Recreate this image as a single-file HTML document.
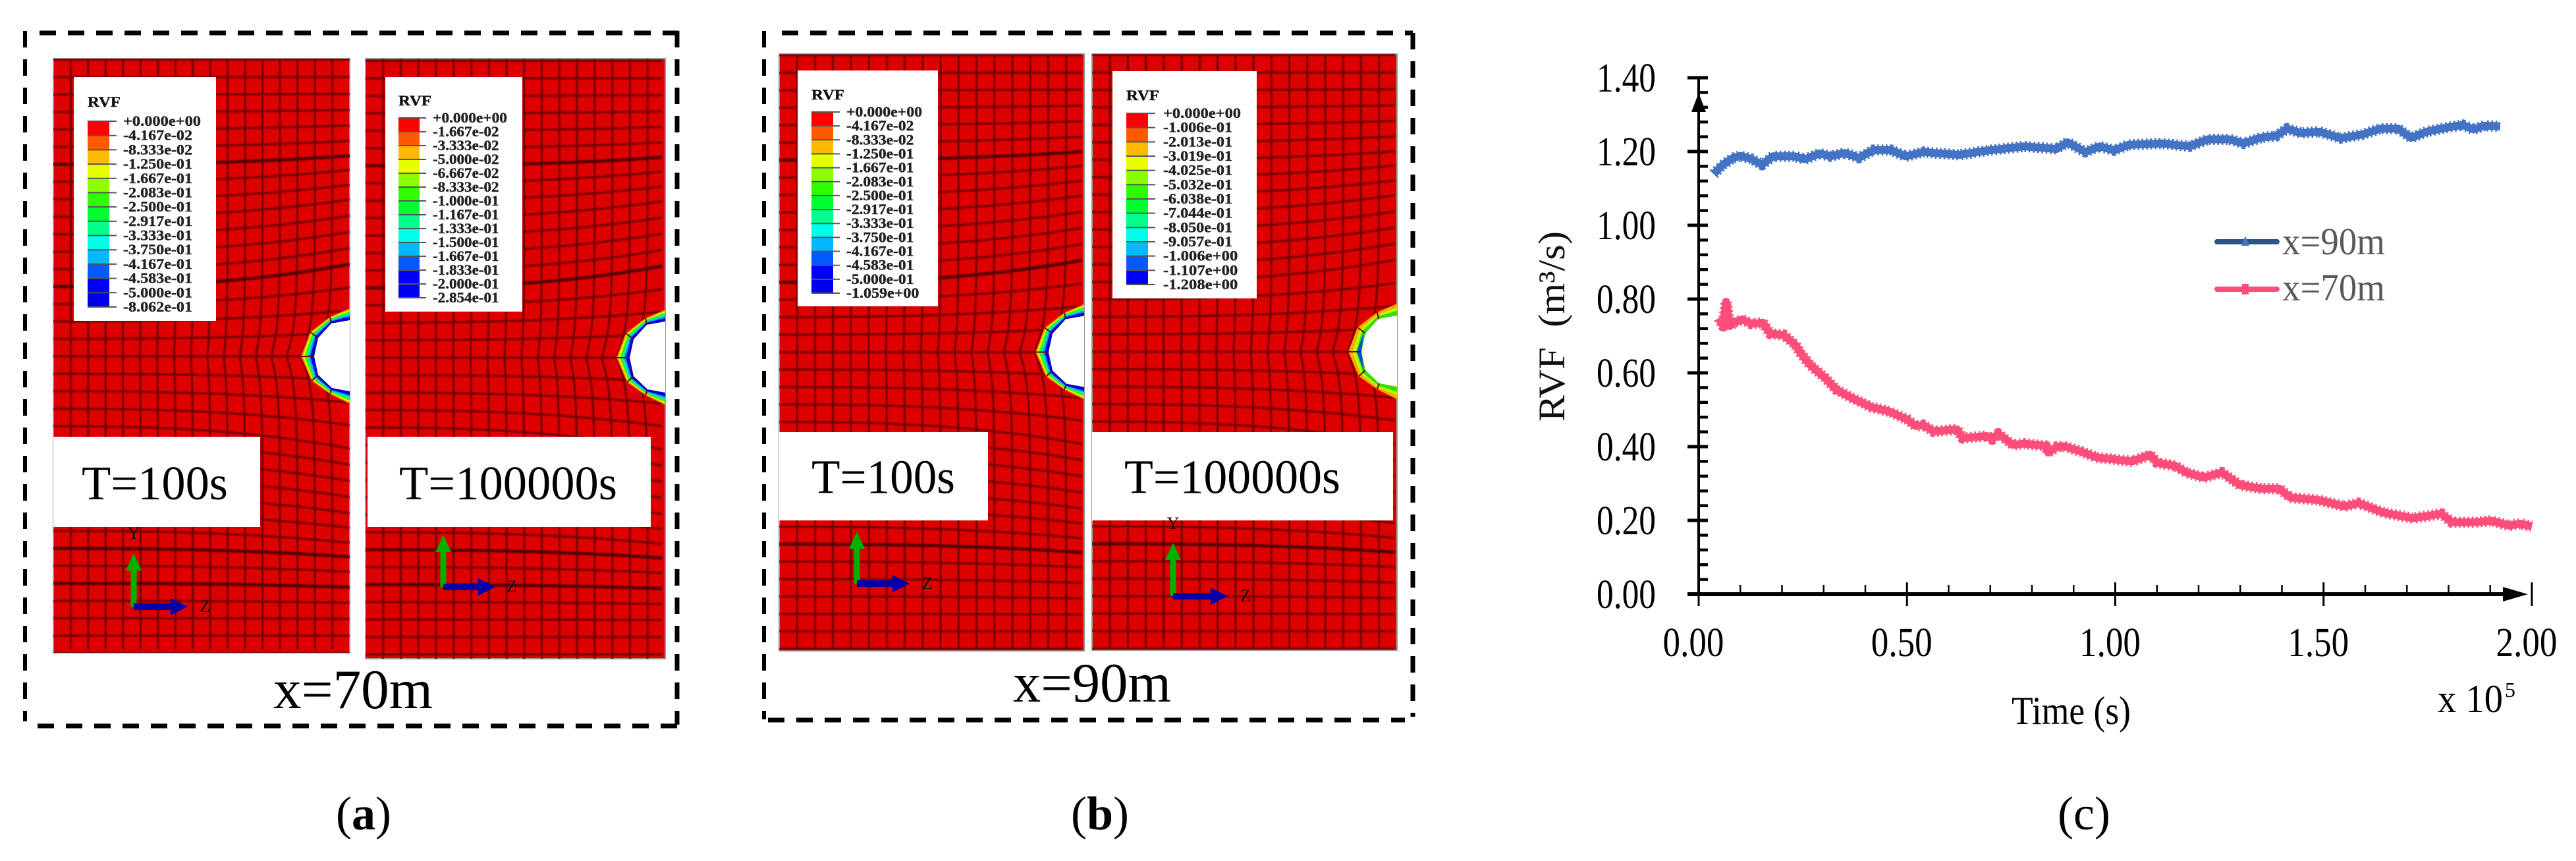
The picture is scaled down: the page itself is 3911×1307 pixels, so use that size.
<!DOCTYPE html>
<html lang="en">
<head>
<meta charset="utf-8">
<title>RVF contour plots and time history</title>
<style>
html,body{margin:0;padding:0;background:#fff;width:3911px;height:1307px;overflow:hidden}
svg{display:block}
text{font-family:"Liberation Serif",serif}
</style>
</head>
<body>
<svg id="figure" xmlns="http://www.w3.org/2000/svg" width="3911" height="1307" viewBox="0 0 3911 1307">
  <defs>
    <filter id="soft" x="-2%" y="-2%" width="104%" height="104%"><feGaussianBlur stdDeviation="0.8"/></filter>
  </defs>
  <rect x="0" y="0" width="3911" height="1307" fill="#fff"/>
  <g id="panels"></g>

  <g stroke="#000" fill="none">
    <line x1="60" y1="50" x2="1030" y2="50" stroke-width="7" stroke-dasharray="25 18"/>
    <line x1="38" y1="47" x2="38" y2="1095" stroke-width="6" stroke-dasharray="25 18"/>
    <line x1="57" y1="1102" x2="1030" y2="1102" stroke-width="7" stroke-dasharray="25 18"/>
    <line x1="1028" y1="47" x2="1028" y2="1100" stroke-width="7" stroke-dasharray="25 18"/>
  </g>
  <g stroke="#000" fill="none">
    <line x1="1187" y1="50" x2="2145" y2="50" stroke-width="7" stroke-dasharray="25 18"/>
    <line x1="1160" y1="47" x2="1160" y2="1092" stroke-width="6" stroke-dasharray="25 18"/>
    <line x1="1166" y1="1093" x2="2133" y2="1093" stroke-width="7" stroke-dasharray="25 18"/>
    <line x1="2145" y1="50" x2="2145" y2="1088" stroke-width="7" stroke-dasharray="25 18"/>
  </g>

  <text x="415" y="1075" font-size="85" textLength="242" lengthAdjust="spacingAndGlyphs" fill="#000">x=70m</text>
  <text x="1538" y="1065" font-size="85" textLength="240" lengthAdjust="spacingAndGlyphs" fill="#000">x=90m</text>

  <text x="552" y="1259" font-size="72" text-anchor="middle" fill="#000">(<tspan font-weight="bold">a</tspan>)</text>
  <text x="1670" y="1259" font-size="72" text-anchor="middle" fill="#000">(<tspan font-weight="bold">b</tspan>)</text>
  <text x="3164" y="1259" font-size="72" text-anchor="middle" fill="#000">(c)</text>

  <g id="chart"></g>
</svg>

<script>
// ---- chart data (panel c) ----
const xTickValues = [0, 0.5, 1.0, 1.5, 2.0];
const xTickLabels = ['0.00', '0.50', '1.00', '1.50', '2.00'];
const yTickValues = [0, 0.2, 0.4, 0.6, 0.8, 1.0, 1.2, 1.4];
const yTickLabels = ['0.00', '0.20', '0.40', '0.60', '0.80', '1.00', '1.20', '1.40'];
const seriesNames = ['x=90m', 'x=70m'];
const time90 = [0.036,0.057,0.083,0.100,0.126,0.152,0.178,0.230,0.255,0.290,0.316,0.350,0.385,0.419,0.462,0.497,0.540,0.575,0.626,0.695,0.782,0.859,0.885,0.928,0.963,0.997,1.032,1.110,1.179,1.222,1.274,1.308,1.351,1.386,1.412,1.446,1.489,1.541,1.593,1.636,1.679,1.710,1.748,1.791,1.834,1.860,1.886,1.924];
const rvf90 = [1.139,1.163,1.183,1.188,1.180,1.164,1.187,1.187,1.179,1.195,1.187,1.196,1.183,1.204,1.204,1.187,1.199,1.195,1.191,1.203,1.214,1.207,1.225,1.199,1.214,1.203,1.218,1.222,1.214,1.233,1.233,1.222,1.238,1.242,1.262,1.250,1.254,1.236,1.246,1.262,1.262,1.237,1.254,1.264,1.272,1.260,1.270,1.268];
const time70 = [0.048,0.059,0.066,0.071,0.075,0.084,0.105,0.126,0.154,0.172,0.204,0.232,0.246,0.267,0.303,0.331,0.366,0.415,0.458,0.500,0.521,0.539,0.564,0.620,0.634,0.691,0.705,0.719,0.754,0.783,0.832,0.839,0.860,0.877,0.920,0.954,1.041,1.084,1.101,1.144,1.170,1.213,1.256,1.299,1.351,1.394,1.420,1.489,1.550,1.584,1.644,1.714,1.783,1.808,1.860,1.903,1.946,1.972,2.000];
const rvf70 = [0.748,0.727,0.793,0.754,0.727,0.736,0.745,0.733,0.736,0.706,0.703,0.676,0.652,0.622,0.587,0.554,0.533,0.507,0.495,0.474,0.456,0.459,0.441,0.447,0.423,0.429,0.420,0.435,0.405,0.408,0.402,0.384,0.400,0.401,0.386,0.371,0.360,0.378,0.356,0.348,0.330,0.316,0.330,0.296,0.286,0.286,0.262,0.255,0.238,0.247,0.221,0.206,0.218,0.195,0.195,0.199,0.186,0.191,0.184];

const NS = 'http://www.w3.org/2000/svg';
function mk(tag, attrs, parent, txt) {
  const el = document.createElementNS(NS, tag);
  for (const k in attrs) el.setAttribute(k, attrs[k]);
  if (txt !== undefined) el.textContent = txt;
  if (parent) parent.appendChild(el);
  return el;
}

// ---- contour panels ----
const legendColors = ['#ff0000','#ff5a00','#ffb900','#e8ff00','#8bff00','#2eff00','#00ff2e','#00ff8b','#00ffe8','#00b9ff','#005aff','#0000ff','#0000f0'];
const rimStrong = [[0,.3,'#0000d8'],[.3,.45,'#00a0ff'],[.45,.62,'#00ff90'],[.62,.75,'#30ff00'],[.75,.88,'#e8ff00'],[.88,1,'#ff9000']];
const rimMild = [[0,.4,'#30e000'],[.4,.7,'#b8ff00'],[.7,1,'#ffa800']];
const rimOuter = [[0,-73],[-30,-60],[-60,-37],[-74,0],[-58,37],[-30,57],[0,72]];
const rimInner = [[0,-55],[-28,-50],[-48,-28],[-54,0],[-48,28],[-27,48],[0,53]];
const bendTable = [0,10,17,25,34,32,30,28,26,22,18,13,9,6,3,1,0,0,0,0];

const panelSpecs = [
  {id:'a-t100', x0:81, x1:531, y0:89, y1:991, hy:541, rim:rimStrong, thick:[-4,-11,11,13],
   box:[112,117,328,487], rvfX:133, rvfY:162, barX:[133,166], barY:[184,466], tickEnd:177, labX:187, labW:118,
   labels:['+0.000e+00','-4.167e-02','-8.333e-02','-1.250e-01','-1.667e-01','-2.083e-01','-2.500e-01','-2.917e-01','-3.333e-01','-3.750e-01','-4.167e-01','-4.583e-01','-5.000e-01','-8.062e-01'],
   tbox:[81,663,395,800], tText:'T=100s', tX:124, tW:222, tY:758, ax:[203,921,840,285], zX:311, yLabel:810},
  {id:'a-t100000', x0:555, x1:1010, y0:89, y1:1000, hy:543, rim:rimStrong, thick:[-4,-11,11,13],
   box:[585,117,793,473], rvfX:605, rvfY:160, barX:[605,637], barY:[179,452], tickEnd:647, labX:657, labW:113,
   labels:['+0.000e+00','-1.667e-02','-3.333e-02','-5.000e-02','-6.667e-02','-8.333e-02','-1.000e-01','-1.167e-01','-1.333e-01','-1.500e-01','-1.667e-01','-1.833e-01','-2.000e-01','-2.854e-01'],
   tbox:[558,663,988,800], tText:'T=100000s', tX:606, tW:331, tY:758, ax:[673,891,812,752], zX:777},
  {id:'b-t100', x0:1183, x1:1646, y0:82, y1:988, hy:534.5, rim:rimStrong, thick:[-4,-11,11],
   box:[1211,107,1424,465], rvfX:1232, rvfY:151, barX:[1232,1265], barY:[170,445], tickEnd:1275, labX:1285, labW:115,
   labels:['+0.000e+00','-4.167e-02','-8.333e-02','-1.250e-01','-1.667e-01','-2.083e-01','-2.500e-01','-2.917e-01','-3.333e-01','-3.750e-01','-4.167e-01','-4.583e-01','-5.000e-01','-1.059e+00'],
   tbox:[1183,656,1500,790], tText:'T=100s', tX:1232, tW:218, tY:748.5, ax:[1301,886,807,1381], zX:1408},
  {id:'b-t100000', x0:1658, x1:2121, y0:82, y1:987, hy:534, rim:rimMild, thick:[11],
   box:[1689,108,1908,453], rvfX:1710, rvfY:152, barX:[1710,1743], barY:[172,432], tickEnd:1754, labX:1766, labW:118,
   labels:['+0.000e+00','-1.006e-01','-2.013e-01','-3.019e-01','-4.025e-01','-5.032e-01','-6.038e-01','-7.044e-01','-8.050e-01','-9.057e-01','-1.006e+00','-1.107e+00','-1.208e+00'],
   tbox:[1658,656,2115,790], tText:'T=100000s', tX:1707, tW:328, tY:748.5, ax:[1781,905,824,1864], zX:1891, yLabel:795}
];

function drawPanel(p) {
  const root = document.getElementById('panels');
  const g = mk('g', {}, root);
  
  
  const w = p.x1 - p.x0, h = p.y1 - p.y0;
  const clipId = 'clip-' + p.id;
  const cp = mk('clipPath', {id: clipId}, g);
  mk('rect', {x: p.x0, y: p.y0, width: w, height: h}, cp);

  const base = mk('rect', {x: p.x0, y: p.y0, width: w, height: h, fill: '#de0000', stroke: '#999', 'stroke-width': 2}, g);
  
  

  const mesh = mk('g', {'clip-path': 'url(#' + clipId + ')', fill: 'none', filter: 'url(#soft)'}, g);
  
  

  const cell = w / 17;
  // vertical mesh lines
  for (let c = 1; c < 17; c++) {
    let pts = [];
    const xb = p.x0 + c * cell;
    const u = (xb - p.x0) / w;
    for (let y = p.y0; y <= p.y1 + 1; y += 8) {
      const dy = Math.abs(y - p.hy);
      const dx = -30 * u * u * u * Math.exp(-dy / 45);
      pts.push((xb + dx).toFixed(1) + ',' + y);
    }
    mk('polyline', {points: pts.join(' '), stroke: '#6e0000', 'stroke-width': 3}, mesh);
  }
  // horizontal mesh lines
  const rowH = 26.5;
  for (let k = -18; k <= 18; k++) {
    const yb = p.hy + k * rowH;
    if (yb < p.y0 || yb > p.y1 + 30) continue;
    const ak = Math.abs(k);
    const sign = k < 0 ? -1 : 1;
    const bend = bendTable[ak] || 0;
    let pts = [];
    for (let x = p.x0; x <= p.x1 + 1; x += 10) {
      const u = (x - p.x0) / w;
      pts.push(x.toFixed(0) + ',' + (yb + sign * bend * Math.pow(u, 2.5)).toFixed(1));
    }
    const thick = p.thick.indexOf(k) >= 0;
    mk('polyline', {points: pts.join(' '), stroke: thick ? '#5a0000' : '#7a0000', 'stroke-width': thick ? 5 : 3.5}, mesh);
  }

  // rim and hole around the circular opening
  const rimG = mk('g', {}, g);
  
  
  const lerp = (i, t) => [p.x1 + rimInner[i][0] + (rimOuter[i][0] - rimInner[i][0]) * t,
                          p.hy + rimInner[i][1] + (rimOuter[i][1] - rimInner[i][1]) * t];
  p.rim.forEach(b => {
    let pts = [];
    for (let i = 0; i < 7; i++) pts.push(lerp(i, b[0]).join(','));
    for (let i = 6; i >= 0; i--) pts.push(lerp(i, b[1]).join(','));
    mk('polygon', {points: pts.join(' '), fill: b[2]}, rimG);
  });
  if (p.rim === rimMild) {
    mk('polygon', {points: [lerp(2, .2).join(','), lerp(3, .35).join(','), lerp(4, .2).join(','), lerp(3, 0).join(',')].join(' '), fill: '#0050e0'}, rimG);
  }
  for (let i = 1; i < 6; i++) {
    const a = lerp(i, 0), b = lerp(i, 1);
    mk('line', {x1: a[0], y1: a[1], x2: b[0], y2: b[1], stroke: '#700000', 'stroke-width': 2}, rimG);
  }
  let holePts = [];
  for (let i = 0; i < 7; i++) holePts.push(lerp(i, 0).join(','));
  const hole = mk('polygon', {points: holePts.join(' '), fill: '#fff'}, rimG);
  
  
  mk('rect', {x: p.x1 + 1, y: p.hy - 80, width: 8, height: 160, fill: '#fff'}, rimG);

  // legend box
  const leg = mk('g', {}, g);
  
  
  mk('rect', {x: p.box[0], y: p.box[1], width: p.box[2] - p.box[0], height: p.box[3] - p.box[1], fill: '#fff'}, leg);
  const title = mk('text', {x: p.rvfX, y: p.rvfY, 'font-size': 22, 'font-weight': 'bold', fill: '#111', stroke: '#111', 'stroke-width': 0.4, textLength: 50, lengthAdjust: 'spacingAndGlyphs'}, leg, 'RVF');
  
  
  const n = p.labels.length;
  const step = (p.barY[1] - p.barY[0]) / (n - 1);
  for (let i = 0; i < n - 1; i++) {
    const band = mk('rect', {x: p.barX[0], y: p.barY[0] + i * step, width: p.barX[1] - p.barX[0], height: step, fill: legendColors[i]}, leg);
    
    
  }
  for (let i = 0; i < n; i++) {
    const yy = p.barY[0] + i * step;
    mk('line', {x1: p.barX[0], y1: yy, x2: p.tickEnd, y2: yy, stroke: '#555', 'stroke-width': 2}, leg);
    const lbl = mk('text', {x: p.labX, y: yy + 7, 'font-size': 22, 'font-weight': 'bold', fill: '#222', stroke: '#222', 'stroke-width': 0.4, textLength: p.labels[i][0] === '+' ? p.labW : p.labW * (p.labels[i].endsWith('+00') ? 0.96 : 0.89), lengthAdjust: 'spacingAndGlyphs'}, leg, p.labels[i]);
    
    
  }

  // time label box
  const tb = mk('rect', {x: p.tbox[0], y: p.tbox[1], width: p.tbox[2] - p.tbox[0], height: p.tbox[3] - p.tbox[1], fill: '#fff'}, g);
  
  
  const tt = mk('text', {x: p.tX, y: p.tY, 'font-size': 73, fill: '#000', textLength: p.tW, lengthAdjust: 'spacingAndGlyphs'}, g, p.tText);
  
  

  // axis triad
  const [ox, oy, topY, rightX] = p.ax;
  const tri = mk('g', {}, g);
  
  
  mk('rect', {x: ox - 4.5, y: topY + 24, width: 9, height: oy - topY - 24, fill: '#00b000'}, tri);
  mk('polygon', {points: `${ox},${topY} ${ox + 12},${topY + 26} ${ox - 12},${topY + 26}`, fill: '#00b000'}, tri);
  mk('rect', {x: ox, y: oy - 5, width: rightX - ox - 24, height: 10, fill: '#0000a8'}, tri);
  mk('polygon', {points: `${rightX},${oy} ${rightX - 26},${oy + 13} ${rightX - 26},${oy - 13}`, fill: '#0000a8'}, tri);
  const zl = mk('text', {x: p.zX, y: oy + 8, 'font-size': 26, 'font-family': 'Liberation Sans', 'text-anchor': 'middle', fill: '#111'}, tri, 'Z');
  
  
  if (p.yLabel) {
    const yl = mk('text', {x: ox, y: p.yLabel + 8, 'font-size': 26, 'font-family': 'Liberation Sans', 'text-anchor': 'middle', fill: '#111'}, tri, 'Y');
    
    
  }
}
panelSpecs.forEach(drawPanel);

// ---- chart (panel c) ----
const plotX0 = 2579, plotX1 = 3844, plotY0 = 902, plotY1 = 118;
const xMax = 2.0, yMax = 1.4;
function sx(v) { return plotX0 + (v / xMax) * (plotX1 - plotX0); }
function sy(v) { return plotY0 - (v / yMax) * (plotY0 - plotY1); }

const chart = document.getElementById('chart');

// y axis
const yAxisG = mk('g', {stroke: '#000'}, chart);


mk('line', {x1: plotX0, y1: sy(0), x2: plotX0, y2: sy(yMax), 'stroke-width': 4}, yAxisG);
yTickValues.forEach((v, i) => {
  const tick = mk('line', {x1: plotX0 - 17, y1: sy(v), x2: plotX0 + 14, y2: sy(v), 'stroke-width': 5}, yAxisG);
  
  
  const lab = mk('text', {x: plotX0 - 65, y: sy(v) + 21, 'font-size': 62, 'text-anchor': 'end', fill: '#000', stroke: 'none', textLength: 90, lengthAdjust: 'spacingAndGlyphs'}, yAxisG, yTickLabels[i]);
  
  
  if (i < yTickValues.length - 1) {
    for (let m = 1; m < 5; m++) {
      const mv = v + (yTickValues[i + 1] - v) * m / 5;
      const minor = mk('line', {x1: plotX0, y1: sy(mv), x2: plotX0 + 14, y2: sy(mv), 'stroke-width': 4.5}, yAxisG);
      
      
    }
  }
});
const yArrow = mk('polygon', {points: `${plotX0},141 ${plotX0 + 11},170 ${plotX0 - 11},170`, fill: '#000', stroke: 'none'}, yAxisG);



// x axis
const xAxisG = mk('g', {stroke: '#000'}, chart);


mk('line', {x1: plotX0 - 17, y1: plotY0, x2: 3805, y2: plotY0, 'stroke-width': 6}, xAxisG);
xTickValues.forEach((v, i) => {
  const tick = mk('line', {x1: sx(v), y1: 884, x2: sx(v), y2: 920, 'stroke-width': 3}, xAxisG);
  
  
  const lab = mk('text', {x: sx(v) - 8, y: 996, 'font-size': 62, 'text-anchor': 'middle', fill: '#000', stroke: 'none', textLength: 93, lengthAdjust: 'spacingAndGlyphs'}, xAxisG, xTickLabels[i]);
  
  
  if (i < xTickValues.length - 1) {
    for (let m = 1; m < 5; m++) {
      const mv = v + (xTickValues[i + 1] - v) * m / 5;
      const minor = mk('line', {x1: sx(mv), y1: 888, x2: sx(mv), y2: plotY0, 'stroke-width': 2.5}, xAxisG);
      
      
    }
  }
});
const xArrow = mk('polygon', {points: `3838,${plotY0} 3800,${plotY0 - 11} 3800,${plotY0 + 11}`, fill: '#000', stroke: 'none'}, xAxisG);



// series
function drawSeries(times, values, color, name) {
  const g = mk('g', {fill: 'none', stroke: color, 'stroke-linejoin': 'round'}, chart);
  
  
  const pts = times.map((t, i) => sx(t).toFixed(1) + ',' + sy(values[i]).toFixed(1)).join(' ');
  mk('polyline', {points: pts, 'stroke-width': 12}, g);
  mk('polyline', {points: pts, 'stroke-width': 17, 'stroke-dasharray': '2.5 4'}, g);
}
drawSeries(time90, rvf90, '#4472c4', 'series-x90m');
drawSeries(time70, rvf70, '#ff4d7a', 'series-x70m');

// legend
const legendSeries = [
  {y: 367, base: 386, line: '#2a5585', mark: '#4472c4', shape: 'tri'},
  {y: 439, base: 456, line: '#ff4d7a', mark: '#ff4d7a', shape: 'bar'}
];
legendSeries.forEach((s, i) => {
  const g = mk('g', {}, chart);
  
  
  mk('line', {x1: 3366, y1: s.y, x2: 3457, y2: s.y, stroke: s.line, 'stroke-width': 8, 'stroke-linecap': 'round'}, g);
  if (s.shape === 'tri') mk('polygon', {points: `3409,${s.y - 9} 3415,${s.y + 6} 3403,${s.y + 6}`, fill: s.mark}, g);
  else mk('rect', {x: 3404, y: s.y - 8, width: 10, height: 16, fill: s.mark}, g);
  mk('text', {x: 3465, y: s.base, 'font-size': 58, fill: '#595959', textLength: 156, lengthAdjust: 'spacingAndGlyphs'}, g, seriesNames[i]);
});

// axis titles
const yTitle = mk('text', {x: 2375, y: 640, 'font-size': 57, fill: '#111', transform: 'rotate(-90 2375 640)', textLength: 289, lengthAdjust: 'spacingAndGlyphs'}, chart, 'RVF\u00A0\u00A0(m\u00B3/s)');


const xTitle = mk('text', {x: 3054, y: 1099, 'font-size': 60, fill: '#000', textLength: 181, lengthAdjust: 'spacingAndGlyphs'}, chart, 'Time (s)');


const xScale = mk('text', {x: 3701, y: 1081, 'font-size': 60, fill: '#000', textLength: 99, lengthAdjust: 'spacingAndGlyphs'}, chart, 'x 10');


const xExp = mk('text', {x: 3803, y: 1058, 'font-size': 32, fill: '#000'}, chart, '5');


</script>
</body>
</html>
